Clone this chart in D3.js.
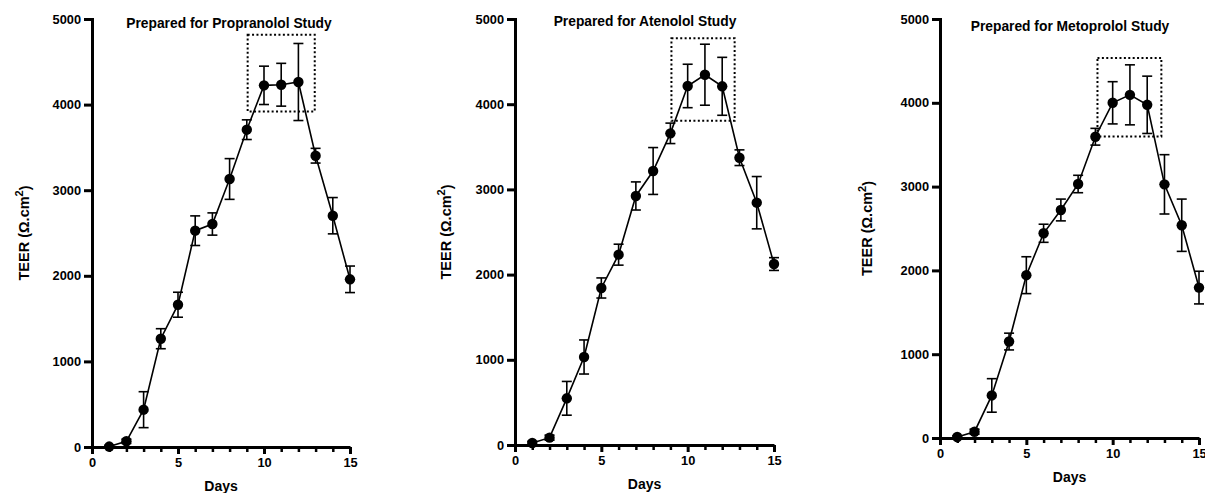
<!DOCTYPE html>
<html>
<head>
<meta charset="utf-8">
<script src="https://cdn.jsdelivr.net/npm/d3@7"></script>
<style>
  body { margin: 0; background: #fff; }
  text { font-family: "Liberation Sans", Arial, sans-serif; font-weight: bold; fill: #000; }
</style>
</head>
<body>
<div id="chart"></div>
<script>
let width = 1205, height = 493;

// Data (mean TEER and error bar half-length, per day)
const days = [1, 2, 3, 4, 5, 6, 7, 8, 9, 10, 11, 12, 13, 14, 15];

const propranololMean = [5, 67, 436, 1265, 1662, 2527, 2605, 3131, 3707, 4225, 4232, 4264, 3403, 2702, 1959];
const propranololErr  = [15, 25, 210, 117, 146, 173, 130, 238, 115, 224, 250, 450, 86, 212, 155];

const atenololMean = [23, 86, 548, 1033, 1843, 2234, 2923, 3216, 3658, 4214, 4346, 4210, 3372, 2844, 2124];
const atenololErr  = [20, 30, 198, 200, 118, 123, 165, 275, 120, 255, 358, 340, 92, 307, 75];

const metoprololMean = [12, 75, 508, 1151, 1943, 2443, 2721, 3031, 3595, 4000, 4095, 3976, 3027, 2539, 1795];
const metoprololErr  = [15, 30, 200, 100, 220, 108, 130, 104, 100, 252, 358, 342, 354, 312, 195];

// dotted highlight boxes: [day from, day to], [TEER from, TEER to]
const propranololBox = {x: [9.05, 12.95], y: [3920, 4815]};
const atenololBox    = {x: [9.06, 12.72], y: [3806, 4773]};
const metoprololBox  = {x: [9.12, 12.82], y: [3599, 4536]};

const titles = ["Prepared for Propranolol Study", "Prepared for Atenolol Study", "Prepared for Metoprolol Study"];
const xTicks = [0, 5, 10, 15];
const yTicks = [0, 1000, 2000, 3000, 4000, 5000];

// panel layout (pixels)
const panels = [
    {title: titles[0], mean: propranololMean, err: propranololErr, box: propranololBox,
     x0: 92, x1: 350, y0: 447, y1: 19, titleX: 229, titleY: 28, daysY: 491, labelX: 24},
    {title: titles[1], mean: atenololMean, err: atenololErr, box: atenololBox,
     x0: 515, x1: 774, y0: 445, y1: 19, titleX: 645, titleY: 26, daysY: 489, labelX: 446},
    {title: titles[2], mean: metoprololMean, err: metoprololErr, box: metoprololBox,
     x0: 940, x1: 1199, y0: 438, y1: 19, titleX: 1070, titleY: 31, daysY: 482, labelX: 867}
];

const svg = d3.select("#chart")
        .append("svg")
        .attr("width", width)
        .attr("height", height);

panels.forEach(p => drawPanel(p));

function drawPanel(p) {
    const x = d3.scaleLinear().domain([0, 15]).range([p.x0, p.x1]);
    const y = d3.scaleLinear().domain([0, 5000]).range([p.y0, p.y1]);
    const g = svg.append("g");

    // minor x ticks (every day)
    g.append("g")
        .attr("transform", "translate(0," + p.y0 + ")")
        .call(d3.axisBottom(x).tickValues(d3.range(1, 15).filter(d => d % 5 != 0)).tickSize(5).tickSizeOuter(0).tickFormat(""))
        .call(a => a.select(".domain").remove())
        .call(a => a.selectAll("line").attr("stroke-width", 2.5));

    // major x axis
    g.append("g")
        .attr("transform", "translate(0," + p.y0 + ")")
        .call(d3.axisBottom(x).tickValues(xTicks).tickSize(7).tickSizeOuter(0).tickPadding(4).tickFormat(d3.format("d")))
        .call(a => a.select(".domain").attr("stroke-width", 3))
        .call(a => a.selectAll("line").attr("stroke-width", 3))
        .call(a => a.selectAll("text").attr("font-size", 12.8));

    // y axis
    g.append("g")
        .attr("transform", "translate(" + p.x0 + ",0)")
        .call(d3.axisLeft(y).tickValues(yTicks).tickSize(8).tickSizeOuter(0).tickPadding(3).tickFormat(d3.format("d")))
        .call(a => a.select(".domain").attr("stroke-width", 3).attr("stroke-linecap", "square"))
        .call(a => a.selectAll("line").attr("stroke-width", 3))
        .call(a => a.selectAll("text").attr("font-size", 12.8));

    g.selectAll("text").attr("font-family", null).attr("fill", "#000");

    // title
    g.append("text")
        .attr("x", p.titleX)
        .attr("y", p.titleY)
        .attr("text-anchor", "middle")
        .attr("font-size", 13.8)
        .text(p.title);

    // x label
    g.append("text")
        .attr("x", (p.x0 + p.x1) / 2)
        .attr("y", p.daysY)
        .attr("text-anchor", "middle")
        .attr("font-size", 14)
        .text("Days");

    // y label with superscript
    let yl = g.append("text")
        .attr("transform", "translate(" + p.labelX + "," + ((p.y0 + p.y1) / 2) + ") rotate(-90)")
        .attr("text-anchor", "middle")
        .attr("dy", "0.35em")
        .attr("font-size", 14.5);
    yl.append("tspan").text("TEER (\u03A9.cm");
    yl.append("tspan").attr("font-size", 11).attr("dy", "-0.55em").text("2");
    yl.append("tspan").attr("dy", "0.45em").text(")");

    // dotted box
    g.append("rect")
        .attr("x", x(p.box.x[0]))
        .attr("y", y(p.box.y[1]))
        .attr("width", x(p.box.x[1]) - x(p.box.x[0]))
        .attr("height", y(p.box.y[0]) - y(p.box.y[1]))
        .attr("fill", "none")
        .attr("stroke", "#000")
        .attr("stroke-width", 2)
        .attr("stroke-dasharray", "2,2.4");

    const pts = days.map((d, i) => ({day: d, mean: p.mean[i], err: p.err[i]}));

    // error bars
    let eb = g.selectAll(".err")
        .data(pts)
        .enter()
            .append("g")
            .attr("class", "err")
            .attr("stroke", "#000")
            .attr("stroke-width", 1.6);
    eb.append("line")
        .attr("x1", d => x(d.day)).attr("x2", d => x(d.day))
        .attr("y1", d => y(d.mean - d.err)).attr("y2", d => y(d.mean + d.err));
    eb.append("line")
        .attr("x1", d => x(d.day) - 5).attr("x2", d => x(d.day) + 5)
        .attr("y1", d => y(d.mean + d.err)).attr("y2", d => y(d.mean + d.err));
    eb.append("line")
        .attr("x1", d => x(d.day) - 5).attr("x2", d => x(d.day) + 5)
        .attr("y1", d => y(d.mean - d.err)).attr("y2", d => y(d.mean - d.err));

    // connecting line
    g.append("path")
        .datum(pts)
        .attr("fill", "none")
        .attr("stroke", "#000")
        .attr("stroke-width", 1.6)
        .attr("d", d3.line().x(d => x(d.day)).y(d => y(d.mean)));

    // markers
    g.selectAll(".dot")
        .data(pts)
        .enter()
            .append("circle")
            .attr("class", "dot")
            .attr("cx", d => x(d.day))
            .attr("cy", d => y(d.mean))
            .attr("r", 5.2)
            .attr("fill", "#000");
}
</script>
</body>
</html>
